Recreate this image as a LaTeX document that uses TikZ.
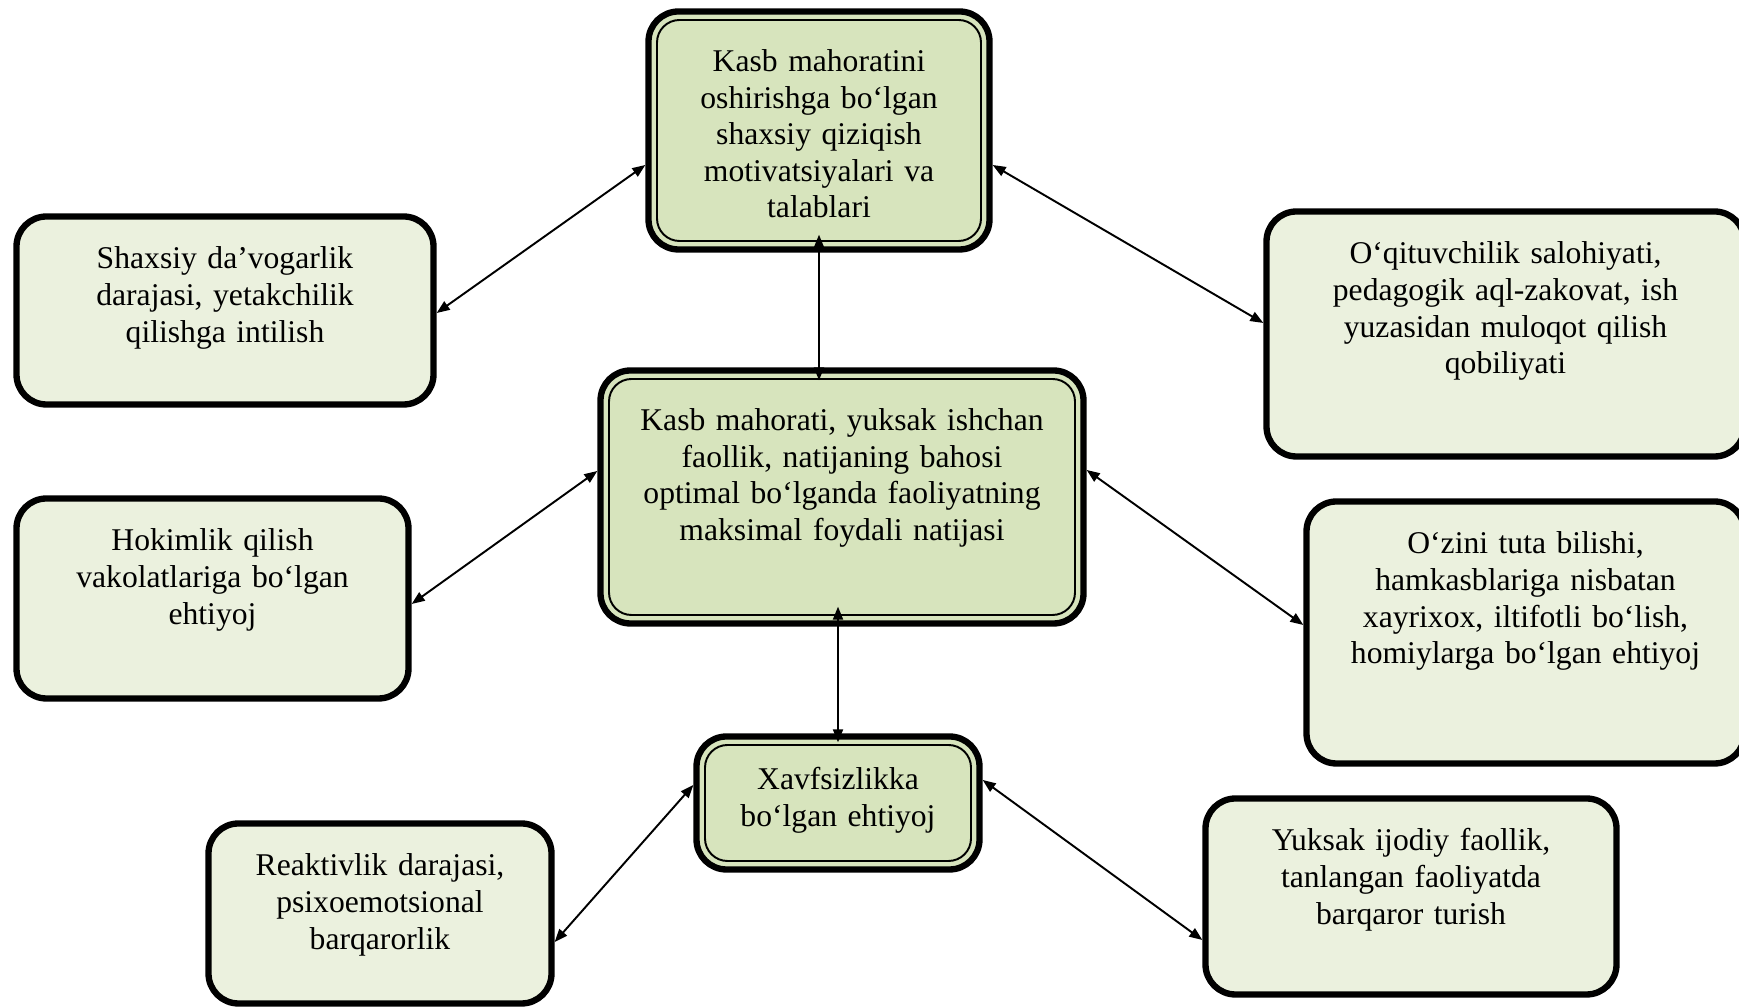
\documentclass[tikz,border=0pt]{standalone}
\usepackage{fontspec}
\setmainfont{Liberation Serif}
\usetikzlibrary{arrows.meta}
\definecolor{olivelight}{HTML}{EBF1DE}
\definecolor{olivemid}{HTML}{D7E4BD}
\begin{document}
\begin{tikzpicture}[line join=round, >={Triangle[length=0.26cm,width=0.2cm]},
	font=\fontsize{18}{20.8}\selectfont,
	box/.style={draw, line width=3.6pt, rounded corners=0.6cm, inner xsep=0.1cm, inner ysep=0pt, align=center},
	outbox/.style={box, fill=olivelight, text height=1.05cm},
	inbox/.style={box, fill=olivemid, text height=1.2cm,
		path picture={\draw[line width=1.1pt, rounded corners=0.45cm] ([shift={(0.17cm,-0.17cm)}]path picture bounding box.north west) rectangle ([shift={(-0.17cm,0.17cm)}]path picture bounding box.south east);}},
	link/.style={<->, line width=1.1pt}]
	\useasboundingbox (0,0) rectangle (34.78,20.16);
	% markaziy bloklar
	\node[inbox, text width=6.62cm, text depth=3.56cm] (kasb) at (16.38,17.55) {Kasb mahoratini\\ oshirishga bo‘lgan\\ shaxsiy qiziqish\\ motivatsiyalari va\\ talablari};
	\node[inbox, text width=9.46cm, text depth=3.86cm] (natija) at (16.84,10.22) {Kasb mahorati, yuksak ishchan\\ faollik, natijaning bahosi\\ optimal bo‘lganda faoliyatning\\ maksimal foydali natijasi};
	\node[inbox, text width=5.46cm, text height=1.07cm, text depth=1.59cm] (xavf) at (16.76,4.10) {Xavfsizlikka\\ bo‘lgan ehtiyoj};
	% chap tomon
	\node[outbox, text width=8.14cm, text depth=2.71cm] (shaxsiy) at (4.50,13.95) {Shaxsiy da’vogarlik\\ darajasi, yetakchilik\\ qilishga intilish};
	\node[outbox, text width=7.64cm, text depth=2.95cm] (hokim) at (4.25,8.19) {Hokimlik qilish\\ vakolatlariga bo‘lgan\\ ehtiyoj};
	\node[outbox, text width=6.66cm, text depth=2.55cm] (reakt) at (7.60,1.89) {Reaktivlik darajasi,\\ psixoemotsional\\ barqarorlik};
	% o'ng tomon
	\node[outbox, text width=9.36cm, text depth=3.85cm] (oqit) at (30.11,13.48) {O‘qituvchilik salohiyati,\\ pedagogik aql-zakovat, ish\\ yuzasidan muloqot qilish\\ qobiliyati};
	\node[outbox, text width=8.56cm, text depth=4.19cm] (ozini) at (30.51,7.51) {O‘zini tuta bilishi,\\ hamkasblariga nisbatan\\ xayrixox, iltifotli bo‘lish,\\ homiylarga bo‘lgan ehtiyoj};
	\node[outbox, text width=8.02cm, text depth=2.87cm] (yuksak) at (28.22,2.23) {Yuksak ijodiy faollik,\\ tanlangan faoliyatda\\ barqaror turish};
	% bog'lanishlar
	\draw[link] ([yshift=-0.69cm]kasb.west) -- ([yshift=-0.05cm]shaxsiy.east);
	\draw[link] ([yshift=-0.69cm]kasb.east) -- ([yshift=0.22cm]oqit.west);
	\draw[link, shorten <=-0.26cm, shorten >=-0.36cm] (kasb.south |- natija.north) -- (kasb.south);
	\draw[link, shorten <=-0.4cm, shorten >=-0.18cm] (xavf.north |- natija.south) -- (xavf.north);
	\draw[link] ([yshift=0.52cm]natija.west) -- ([yshift=-0.11cm]hokim.east);
	\draw[link] ([yshift=0.54cm]natija.east) -- ([yshift=0.15cm]ozini.west);
	\draw[link] ([yshift=0.36cm]xavf.west) -- ([yshift=-0.57cm]reakt.east);
	\draw[link] ([yshift=0.46cm]xavf.east) -- ([yshift=-0.87cm]yuksak.west);
\end{tikzpicture}
\end{document}
